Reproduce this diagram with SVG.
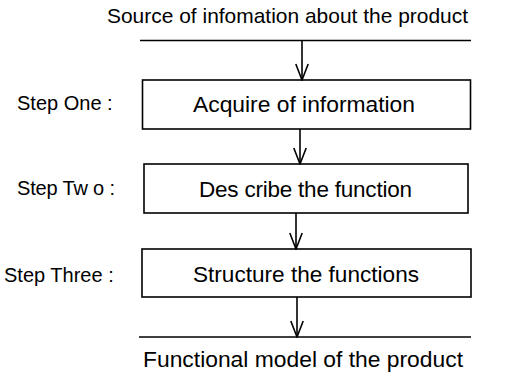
<svg xmlns="http://www.w3.org/2000/svg" width="508" height="376" viewBox="0 0 508 376">
  <defs>
    <marker id="vhead" viewBox="0 0 18 14" refX="17" refY="7" markerWidth="18" markerHeight="14" markerUnits="userSpaceOnUse" orient="auto">
      <path d="M1,0.8 L17,7 L1,13.2" fill="none" stroke="#000" stroke-width="1.6"/>
    </marker>
  </defs>
  <style>
    text { font-family: "Liberation Sans", Arial, sans-serif; fill: #000; }
    .title { font-size: 21px; }
    .step { font-size: 20px; }
    .label { font-size: 22.5px; }
    .box { fill: #fff; stroke: #000; stroke-width: 1.6; }
    .rule { stroke: #000; stroke-width: 1.6; fill: none; }
    .flow { stroke: #000; stroke-width: 1.6; fill: none; marker-end: url(#vhead); }
  </style>

  <rect width="508" height="376" fill="#fff"/>

  <!-- input: source line -->
  <g id="source">
    <text class="title" x="107" y="23" textLength="361" lengthAdjust="spacingAndGlyphs">Source of infomation about the product</text>
    <line class="rule" x1="140" y1="40.5" x2="471" y2="40.5"/>
  </g>

  <!-- step 1 -->
  <g id="step-one">
    <text class="step" x="17" y="110">Step One :</text>
    <rect class="box" x="142.5" y="80" width="328" height="49"/>
    <text class="label" x="193" y="112" textLength="222" lengthAdjust="spacingAndGlyphs">Acquire of information</text>
  </g>

  <!-- step 2 -->
  <g id="step-two">
    <text class="step" x="17" y="195" textLength="98" lengthAdjust="spacing">Step Tw o :</text>
    <rect class="box" x="144" y="164" width="324" height="49"/>
    <text class="label" x="199" y="197" textLength="213" lengthAdjust="spacing">Des cribe the function</text>
  </g>

  <!-- step 3 -->
  <g id="step-three">
    <text class="step" x="4" y="282">Step Three :</text>
    <rect class="box" x="142" y="249" width="329" height="48"/>
    <text class="label" x="193" y="282" textLength="226" lengthAdjust="spacingAndGlyphs">Structure the functions</text>
  </g>

  <!-- output: functional model line -->
  <g id="result">
    <line class="rule" x1="139" y1="337" x2="471" y2="337"/>
    <text class="label" x="143" y="367" textLength="320" lengthAdjust="spacingAndGlyphs">Functional model of the product</text>
  </g>

  <!-- connectors -->
  <g id="connectors">
    <line class="flow" x1="302" y1="41" x2="302" y2="80"/>
    <line class="flow" x1="300" y1="129" x2="300" y2="164"/>
    <line class="flow" x1="296" y1="213" x2="296" y2="249"/>
    <line class="flow" x1="297" y1="297" x2="297" y2="337"/>
  </g>
</svg>
